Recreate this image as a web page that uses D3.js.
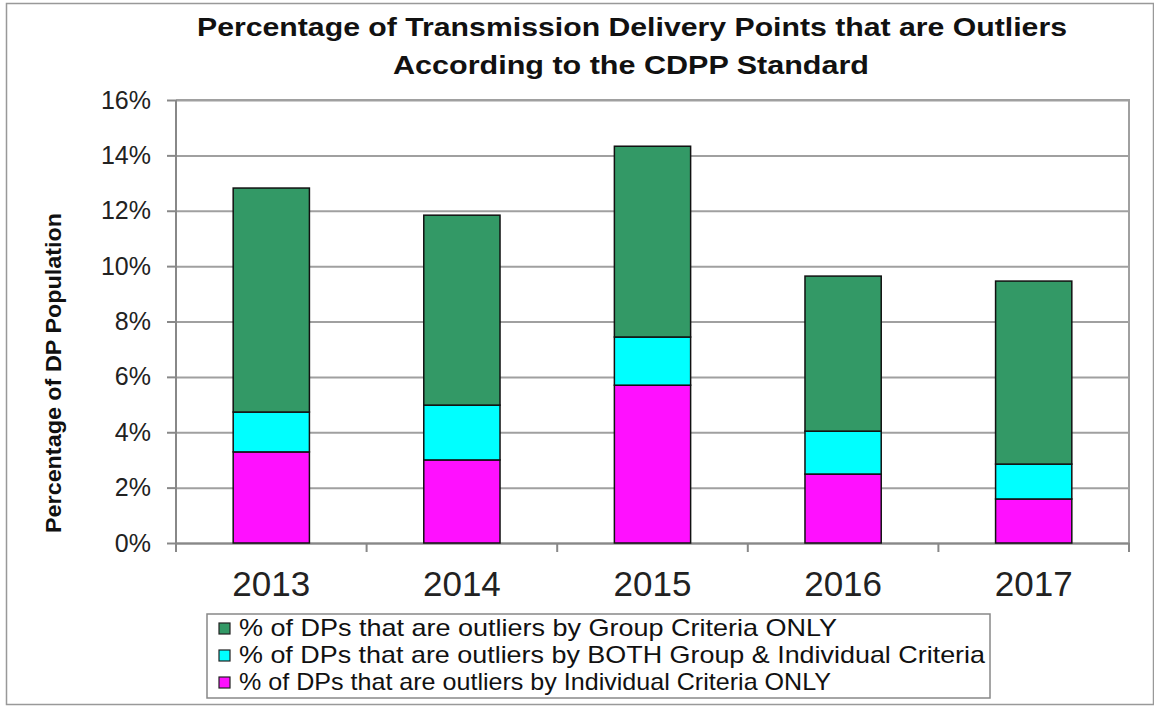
<!DOCTYPE html>
<html lang="en">
<head>
<meta charset="utf-8">
<title>Transmission Delivery Point Outliers</title>
<script src="https://cdn.jsdelivr.net/npm/d3@7"></script>
<style>
  body { margin: 0; background: #fff; font-family: "Liberation Sans", Arial, sans-serif; }
</style>
</head>
<body>
<div id="chart"></div>
<script>
// data (fractions of DP population)
var years = ["2013", "2014", "2015", "2016", "2017"];
var individualOnly = [0.0329, 0.0300, 0.0570, 0.0249, 0.0159];
var bothCriteria   = [0.0144, 0.0198, 0.0174, 0.0155, 0.0126];
var groupOnly      = [0.0809, 0.0686, 0.0689, 0.0560, 0.0661];
var yTicks = [0, 0.02, 0.04, 0.06, 0.08, 0.10, 0.12, 0.14, 0.16];

var seriesKeys = ["individual", "both", "group"];
var legendLabels = {
  group: "% of DPs that are outliers by Group Criteria ONLY",
  both: "% of DPs that are outliers by BOTH Group & Individual Criteria",
  individual: "% of DPs that are outliers by Individual Criteria ONLY"
};
var color = d3.scaleOrdinal()
  .domain(seriesKeys)
  .range(["#ff10ff", "#00ffff", "#339966"]);

var table = years.map(function(y, i) {
  return { year: y, individual: individualOnly[i], both: bothCriteria[i], group: groupOnly[i] };
});

var W = 1154, H = 706;
var margin = { top: 100, left: 176, right: 25, bottom: 163 };
var w = W - margin.left - margin.right;
var h = H - margin.top - margin.bottom;

var svg = d3.select("#chart").append("svg")
  .attr("width", W).attr("height", H);

// outer frame
svg.append("rect")
  .attr("x", 6.5).attr("y", 3.5).attr("width", W - 7).attr("height", H - 5)
  .attr("fill", "none").attr("stroke", "#999").attr("stroke-width", 1.5);

// title
var title = svg.append("text")
  .attr("text-anchor", "middle")
  .attr("font-weight", "bold")
  .attr("font-size", "26px")
  .attr("fill", "#111");
title.append("tspan").attr("x", 632).attr("y", 36)
  .attr("textLength", 870).attr("lengthAdjust", "spacingAndGlyphs")
  .text("Percentage of Transmission Delivery Points that are Outliers");
title.append("tspan").attr("x", 631).attr("y", 74)
  .attr("textLength", 476).attr("lengthAdjust", "spacingAndGlyphs")
  .text("According to the CDPP Standard");

var g = svg.append("g")
  .attr("transform", "translate(" + margin.left + "," + margin.top + ")");

var xScale = d3.scaleBand()
  .domain(years)
  .range([0, w])
  .paddingInner(0.6)
  .paddingOuter(0.3);

var yScale = d3.scaleLinear()
  .domain([0, 0.16])
  .range([h, 0]);

// gridlines
g.append("g")
  .call(d3.axisLeft(yScale).tickValues(yTicks).tickSize(-w).tickFormat(""))
  .call(function(s) {
    s.select(".domain").remove();
    s.selectAll("line").attr("stroke", "#a0a0a0").attr("stroke-width", 2);
  });

// plot frame (top + right)
g.append("path")
  .attr("d", "M0,0H" + w + "V" + (h + 9))
  .attr("fill", "none").attr("stroke", "#a0a0a0").attr("stroke-width", 2);

// y axis
g.append("g")
  .call(d3.axisLeft(yScale).tickValues(yTicks).tickSize(9).tickPadding(16)
    .tickFormat(d3.format(".0%")))
  .call(function(s) {
    s.select(".domain").attr("stroke", "#888").attr("stroke-width", 2)
      .attr("d", "M0," + (h + 9) + "V0");
    s.selectAll("line").attr("stroke", "#888").attr("stroke-width", 2);
    s.selectAll("text").attr("font-size", "25px").attr("fill", "#222")
      .attr("font-family", "Liberation Sans, Arial, sans-serif");
  });

// x axis
g.append("g")
  .attr("transform", "translate(0," + h + ")")
  .call(d3.axisBottom(xScale).tickSize(0).tickPadding(28))
  .call(function(s) {
    s.select(".domain").attr("stroke", "#888").attr("stroke-width", 2);
    s.selectAll("text").attr("font-size", "35px").attr("fill", "#222")
      .attr("font-family", "Liberation Sans, Arial, sans-serif");
  });

// category boundary ticks
var step = xScale.step();
g.append("g").selectAll("line")
  .data(d3.range(years.length + 1))
  .enter().append("line")
  .attr("x1", function(i) { return i * step; })
  .attr("x2", function(i) { return i * step; })
  .attr("y1", h).attr("y2", h + 9)
  .attr("stroke", "#888").attr("stroke-width", 2);

// y axis title
svg.append("text")
  .attr("transform", "translate(61,373) rotate(-90)")
  .attr("text-anchor", "middle")
  .attr("font-weight", "bold")
  .attr("font-size", "22px")
  .attr("fill", "#111")
  .attr("textLength", 320).attr("lengthAdjust", "spacingAndGlyphs")
  .text("Percentage of DP Population");

// stacked bars
var stackedData = d3.stack().keys(seriesKeys)(table);

g.append("g").selectAll("g")
  .data(stackedData)
  .enter().append("g")
  .attr("fill", function(d) { return color(d.key); })
  .selectAll("rect")
  .data(function(d) { return d; })
  .enter().append("rect")
  .attr("x", function(d) { return xScale(d.data.year); })
  .attr("y", function(d) { return yScale(d[1]); })
  .attr("width", xScale.bandwidth())
  .attr("height", function(d) { return yScale(d[0]) - yScale(d[1]); })
  .attr("stroke", "#111")
  .attr("stroke-width", 1.5);

// legend
var legendKeys = ["group", "both", "individual"];
var legendWidths = { group: 598, both: 746, individual: 592 };
var legend = svg.append("g").attr("transform", "translate(207,614)");
legend.append("rect")
  .attr("width", 783).attr("height", 84)
  .attr("fill", "#fff").attr("stroke", "#888").attr("stroke-width", 1.5);

var rows = legend.selectAll("g.row")
  .data(legendKeys)
  .enter().append("g")
  .attr("class", "row")
  .attr("transform", function(d, i) { return "translate(0," + (14 + i * 27) + ")"; });

rows.append("rect")
  .attr("x", 12).attr("y", -5)
  .attr("width", 11).attr("height", 11)
  .attr("fill", function(d) { return color(d); })
  .attr("stroke", "#222").attr("stroke-width", 1.2);

rows.append("text")
  .attr("x", 32).attr("y", 8)
  .attr("font-size", "24px")
  .attr("fill", "#111")
  .attr("textLength", function(d) { return legendWidths[d]; })
  .attr("lengthAdjust", "spacingAndGlyphs")
  .text(function(d) { return legendLabels[d]; });
</script>
</body>
</html>
